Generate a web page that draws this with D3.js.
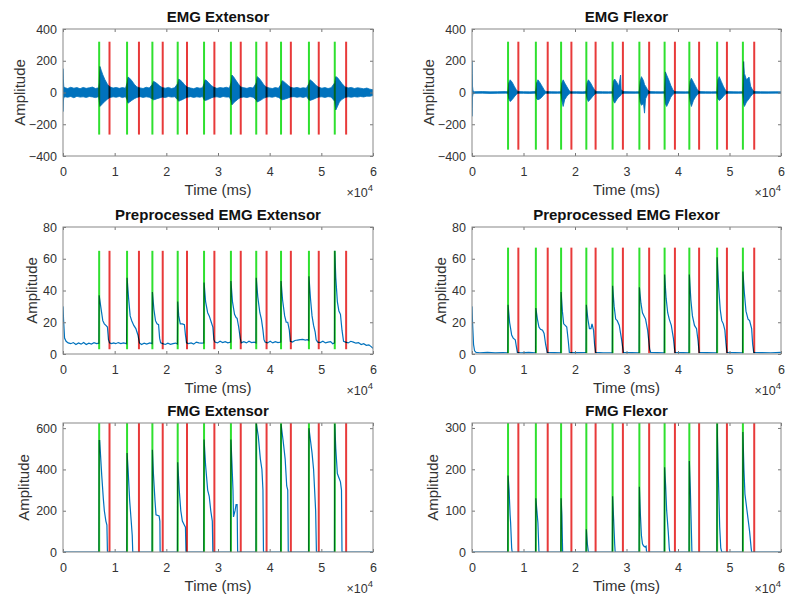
<!DOCTYPE html>
<html>
<head>
<meta charset="utf-8">
<script src="https://cdn.jsdelivr.net/npm/d3@7"></script>
<style>
  html, body { margin: 0; padding: 0; background: #fff; }
  svg { display: block; font-family: "Liberation Sans", Arial, Helvetica, sans-serif; }
  .tick text { fill: #333; }
</style>
</head>
<body>
<svg id="chart" width="786" height="599"></svg>
<script>
// ---------------- DATA ----------------
// marker times (ms): onset (green) and offset (red)
const greenT = [7000, 12400, 17300, 22200, 27300, 32500, 37400, 42200, 47600, 52600];
const redT   = [9000, 14700, 19300, 24000, 29300, 34400, 39400, 44100, 49500, 54800];

const xTicks = [0, 10000, 20000, 30000, 40000, 50000, 60000];
const yTicksRaw = [-400, -200, 0, 200, 400];
const yTicksPre = [0, 20, 40, 60, 80];
const yTicksFmgExt = [0, 200, 400, 600];
const yTicksFmgFlx = [0, 100, 200, 300];

const titles = ["EMG Extensor", "EMG Flexor", "Preprocessed EMG Extensor",
                "Preprocessed EMG Flexor", "FMG Extensor", "FMG Flexor"];
const yMin = [-400, -400, 0, 0, 0, 0];
const yMax = [400, 400, 80, 80, 625, 312];
const markerLo = [-265, -360, 3, 0.5, 0, 0];
const markerHi = [320, 320, 65, 67, 625, 312];

// Raw EMG extensor: envelope of the dense signal (time ms, upper, lower)
const emgExtT = [0, 60, 150, 400, 900, 1500, 2100, 2700, 3300, 3900, 4500, 5100, 5700, 6300, 6900,
  7000, 7150, 7400, 7700, 8100, 8600, 9100,
  9700, 10300, 10900, 11500, 12100,
  12400, 12600, 12900, 13300, 13800, 14300,
  14900, 15500, 16100, 16700,
  17300, 17500, 17800, 18200, 18700, 19200,
  19800, 20400, 21000, 21600,
  22200, 22400, 22700, 23100, 23600, 24100,
  24700, 25300, 25900, 26500, 27000,
  27300, 27500, 27800, 28200, 28700, 29200,
  29800, 30400, 31000, 31600, 32200,
  32500, 32700, 33000, 33400, 33900, 34400,
  35000, 35600, 36200, 36800,
  37400, 37600, 37900, 38300, 38800, 39300,
  39900, 40500, 41100, 41700,
  42200, 42400, 42700, 43100, 43600, 44100,
  44700, 45300, 45900, 46500, 47100,
  47600, 47800, 48100, 48500, 49000, 49500,
  50100, 50700, 51300, 51900,
  52600, 52800, 53100, 53500, 54000, 54600,
  55200, 55800, 56400, 57000, 57600, 58200, 58800, 59400, 60000];
const emgExtHi = [150, 90, 36, 30, 25, 33, 27, 31, 24, 32, 26, 30, 34, 25, 30,
  60, 164, 140, 112, 82, 52, 35,
  28, 32, 26, 31, 27,
  60, 97, 90, 75, 52, 35,
  29, 25, 33, 28,
  52, 70, 66, 56, 42, 31,
  27, 32, 25, 30,
  56, 84, 78, 66, 46, 33,
  28, 24, 31, 27, 30,
  56, 80, 75, 61, 44, 33,
  26, 31, 28, 33, 27,
  60, 110, 100, 80, 56, 35,
  30, 26, 32, 28,
  60, 100, 92, 76, 52, 35,
  29, 25, 31, 27,
  52, 74, 70, 59, 44, 32,
  28, 32, 26, 30, 27,
  56, 80, 74, 61, 44, 33,
  27, 31, 25, 30,
  62, 100, 95, 78, 56, 35,
  29, 32, 25, 30, 27, 23, 28, 21, 17];
const emgExtLo = [-120, -60, -32, -27, -30, -25, -33, -24, -29, -27, -31, -25, -28, -32, -26,
  -50, -88, -80, -70, -56, -42, -31,
  -27, -30, -25, -32, -26,
  -46, -67, -60, -50, -39, -31,
  -26, -31, -27, -30,
  -41, -46, -44, -39, -34, -29,
  -32, -25, -29, -27,
  -46, -55, -50, -45, -36, -30,
  -26, -31, -27, -30, -25,
  -46, -50, -48, -42, -34, -29,
  -27, -31, -25, -29, -28,
  -50, -78, -66, -55, -41, -31,
  -28, -32, -26, -30,
  -48, -60, -55, -48, -37, -30,
  -27, -30, -25, -31,
  -41, -46, -44, -40, -34, -28,
  -26, -30, -27, -31, -25,
  -46, -50, -47, -42, -34, -29,
  -27, -31, -26, -29,
  -56, -110, -90, -60, -43, -31,
  -27, -30, -26, -29, -25, -28, -23, -24, -19];

// Raw EMG flexor envelope
const emgFlxT = [0, 40, 100, 200, 500, 2000, 3500, 5000, 6500, 6900,
  7000, 7150, 7400, 7800, 8200, 8600, 8900,
  10000, 11200, 12300,
  12400, 12550, 12800, 13200, 13600, 14000, 14300,
  15500, 16600, 17250,
  17300, 17450, 17700, 18000, 18400, 18800, 19100,
  20300, 21500, 22150,
  22200, 22350, 22600, 23000, 23400, 23800, 24100,
  25300, 26500, 27250,
  27300, 27450, 27700, 28100, 28500, 28850, 28950, 29300,
  30500, 31700, 32450,
  32500, 32650, 32900, 33300, 33500, 33700, 34100, 34400,
  35600, 36700, 37350,
  37400, 37550, 37800, 38200, 38600, 39000, 39300,
  40400, 41500, 42150,
  42200, 42350, 42600, 43000, 43400, 43800, 44100,
  45300, 46500, 47550,
  47600, 47750, 48000, 48400, 48800, 49200, 49500,
  50700, 51800, 52550,
  52600, 52750, 52900, 53300, 53800, 54100, 54500, 54800,
  56000, 57500, 59000, 60000];
const emgFlxHi = [200, 120, 40, 10, 5, 6, 4, 5, 6, 4,
  15, 60, 80, 65, 40, 18, 6,
  5, 4, 6,
  15, 60, 80, 62, 40, 18, 6,
  5, 4, 5,
  15, 60, 80, 60, 38, 15, 5,
  5, 4, 6,
  15, 60, 80, 62, 38, 16, 6,
  5, 4, 5,
  15, 70, 85, 65, 40, 110, 20, 6,
  5, 4, 5,
  15, 70, 100, 75, 50, 40, 18, 6,
  5, 4, 5,
  20, 130, 110, 80, 45, 18, 6,
  5, 4, 5,
  15, 70, 90, 65, 40, 16, 6,
  5, 4, 5,
  15, 80, 100, 70, 40, 15, 6,
  5, 4, 5,
  20, 195, 120, 80, 97, 40, 15, 6,
  5, 4, 5, 4];
const emgFlxLo = [-150, -100, -30, -8, -5, -4, -6, -5, -4, -5,
  -12, -40, -57, -45, -28, -12, -5,
  -5, -6, -4,
  -12, -40, -46, -40, -28, -12, -5,
  -5, -5, -4,
  -12, -50, -88, -45, -25, -10, -5,
  -5, -6, -4,
  -12, -40, -57, -42, -26, -12, -5,
  -5, -5, -4,
  -12, -50, -67, -45, -28, -20, -12, -5,
  -5, -5, -4,
  -12, -60, -80, -70, -130, -40, -12, -5,
  -5, -5, -4,
  -15, -70, -88, -60, -30, -12, -5,
  -5, -5, -4,
  -12, -55, -88, -50, -28, -12, -5,
  -5, -5, -4,
  -12, -40, -50, -40, -25, -10, -5,
  -5, -5, -4,
  -15, -70, -88, -60, -40, -25, -10, -5,
  -5, -5, -4, -4];

// Preprocessed EMG extensor (time ms, value)
const preExtT = [0, 100, 300, 600, 1000, 1500, 2000, 2500, 3000, 3500, 4000, 4500, 5000, 5500, 6000, 6500, 6950,
  7000, 7300, 7700, 8000, 8300, 8600, 8800, 9000, 9400, 9800, 10200, 10700, 11200, 11700, 12300,
  12400, 12700, 13000, 13300, 13700, 14100, 14500, 14800, 15200, 15700, 16200, 16800, 17250,
  17300, 17600, 17900, 18200, 18500, 18700, 18900, 19300, 19800, 20300, 20800, 21300, 21800, 22150,
  22200, 22400, 22700, 23100, 23500, 23700, 23900, 24300, 24800, 25300, 25800, 26300, 26800, 27250,
  27300, 27600, 28000, 28300, 28700, 29000, 29200, 29400, 29900, 30400, 30900, 31400, 31900, 32450,
  32500, 32800, 33200, 33500, 33700, 34000, 34300, 34500, 35000, 35500, 36000, 36500, 37000, 37350,
  37400, 37700, 38100, 38400, 38700, 38900, 39100, 39600, 40100, 40600, 41100, 41600, 42150,
  42200, 42500, 42900, 43200, 43500, 43800, 44000, 44400, 44900, 45400, 45900, 46400, 46900, 47300, 47550,
  47600, 47900, 48200, 48500, 48800, 49000, 49300, 49800, 50300, 50800, 51300, 51800, 52200, 52550,
  52600, 52800, 53100, 53400, 53700, 54000, 54300, 54700, 55200, 55700, 56200, 56700, 57200, 57700, 58200, 58700, 59200, 59700, 60000];
const preExtV = [30, 22, 10, 8, 7, 6.5, 7.2, 6, 7, 6.2, 7.3, 6, 6.8, 6.3, 7.1, 6.5, 6.8,
  37, 30, 21, 19, 18, 17, 9, 7, 6.5, 7, 6.5, 7.2, 6.6, 7, 6.5,
  48, 35, 24, 21, 18, 16, 12, 7, 6, 6.8, 6.2, 7, 6.5,
  39, 28, 21, 19, 18.5, 10, 7, 6.5, 6, 6.8, 6.1, 6.5, 6.9, 6.3,
  33, 24, 19, 19, 18.5, 12, 7, 6.5, 7, 6.2, 7.5, 7, 6.8, 7,
  45, 33, 26, 24, 20, 17, 9, 7.5, 7, 8, 7.2, 7.8, 7, 7.5,
  46, 33, 25, 23, 22.5, 17, 10, 7, 7.8, 7, 8, 7.2, 7.5, 7,
  48, 36, 26, 22, 15, 9, 7.5, 7, 8, 7, 7.8, 7.2, 7.5,
  46, 34, 24, 20, 20, 15, 8, 7.5, 8.5, 8.8, 9, 9.2, 8.8, 9, 8.5,
  49, 35, 24, 18, 14, 9, 7.5, 7.2, 8, 7, 7.5, 7.8, 6.5, 7,
  65, 48, 33, 27, 25, 15, 8, 7.5, 7, 8, 7.5, 6.8, 7.2, 6, 6.5, 5.5, 5.8, 4.5, 3.5];

// Preprocessed EMG flexor
const preFlxT = [0, 100, 300, 500, 800, 1500, 3000, 4500, 6000, 6950,
  7000, 7300, 7700, 8000, 8400, 8600, 8800, 9500, 11000, 12350,
  12400, 12700, 13000, 13300, 13700, 14000, 14300, 14600, 16000, 17250,
  17300, 17550, 17800, 18100, 18400, 18700, 18900, 20000, 22150,
  22200, 22500, 22800, 23100, 23300, 23600, 23800, 24000, 25500, 27250,
  27300, 27600, 27900, 28200, 28600, 29000, 29400, 31000, 32450,
  32500, 32800, 33100, 33400, 33700, 34100, 34500, 34700, 36000, 37350,
  37400, 37700, 38000, 38300, 38700, 39100, 39400, 41000, 42150,
  42200, 42500, 42800, 43200, 43600, 43900, 44100, 45500, 47550,
  47600, 47900, 48200, 48500, 48800, 49100, 49300, 49500, 51000, 52550,
  52600, 52900, 53200, 53600, 53900, 54300, 54500, 54700, 56000, 58000, 60000];
const preFlxV = [30, 20, 6, 2, 1, 0.8, 1, 0.7, 0.9, 0.8,
  31, 20, 12, 10, 9, 5, 1, 0.8, 1, 0.8,
  29, 22, 17, 15.6, 15, 13, 6, 1, 0.9, 0.8,
  39, 27, 19, 18, 17, 8, 1, 0.9, 1,
  31, 22, 16, 16, 19, 15, 6, 1, 0.8, 0.9,
  43, 30, 22, 21, 18, 10, 1, 0.9, 0.8,
  42, 32, 26, 24, 22, 15, 3, 1, 0.9, 0.8,
  50, 35, 26, 22, 18, 10, 1, 0.9, 0.8,
  50, 34, 24, 18, 16, 8, 1, 0.9, 0.8,
  61, 42, 28, 21, 19, 15, 7, 1, 0.9, 0.8,
  52, 38, 27, 22, 21, 16, 6, 1, 0.9, 0.8, 1];

// FMG extensor
const fmgExtT = [0, 6950, 7000, 7100, 7500, 7800, 8000, 8300, 8500, 8600, 12350,
  12400, 12600, 12900, 13200, 13400, 13500, 17250,
  17300, 17500, 17800, 18000, 18600, 18750, 18800, 22150,
  22200, 22500, 22800, 23100, 23500, 23700, 23800, 27250,
  27300, 27600, 28000, 28300, 28600, 28900, 29000, 32450,
  32500, 32700, 32900, 33000, 33300, 33500, 33700, 33800, 37350,
  37400, 37800, 38200, 38500, 38700, 38800, 42150,
  42200, 42600, 43000, 43300, 43500, 43600, 47550,
  47600, 47900, 48200, 48500, 48700, 48900, 49050, 52550,
  52600, 52800, 53100, 53400, 53700, 53900, 54000, 60000];
const fmgExtV = [0, 0, 540, 540, 370, 260, 200, 150, 130, 0, 0,
  480, 400, 250, 150, 80, 0, 0,
  495, 380, 250, 180, 175, 150, 0, 0,
  435, 300, 200, 150, 130, 120, 0, 0,
  545, 420, 300, 270, 200, 150, 0, 0,
  545, 430, 300, 170, 200, 230, 230, 0, 0,
  625, 560, 450, 400, 300, 0, 0,
  620, 540, 450, 320, 300, 0, 0,
  600, 540, 480, 400, 300, 200, 0, 0,
  620, 500, 380, 360, 340, 300, 0, 0];

// FMG flexor
const fmgFlxT = [0, 6950, 7000, 7200, 7400, 7500, 7700, 7800, 12350,
  12400, 12600, 12800, 13000, 17250,
  17300, 17450, 17600, 22150,
  22200, 22400, 22600, 27250,
  27300, 27500, 27700, 27800, 32450,
  32500, 32700, 32900, 33100, 33300, 33600, 33800, 33900, 37350,
  37400, 37600, 37800, 38100, 38300, 38400, 42150,
  42200, 42400, 42600, 42700, 47550,
  47600, 47800, 48100, 48300, 48500, 52550,
  52600, 52800, 53000, 53300, 53600, 53900, 54200, 54300, 60000];
const fmgFlxV = [0, 0, 185, 150, 90, 70, 10, 0, 0,
  130, 100, 70, 0, 0,
  130, 90, 0, 0,
  55, 20, 0, 0,
  135, 80, 20, 0, 0,
  158, 90, 40, 20, 15, 12, 14, 0, 0,
  205, 160, 100, 50, 10, 0, 0,
  220, 150, 50, 0, 0,
  310, 200, 60, 10, 0, 0,
  290, 200, 140, 110, 80, 50, 10, 0, 0];

// ---------------- CHART ----------------
const svg = d3.select("#chart");
const colX = [[63, 373], [472, 781]];
const rowY = [[29, 156], [227, 354], [423, 552]];
const ampOffset = [43, 31, 39];
const blue = "#0072BD", green = "#2fe02f", red = "#e83a3a";

const panels = [
  {kind: "band", t: emgExtT, hi: emgExtHi, lo: emgExtLo, ticks: yTicksRaw},
  {kind: "band", t: emgFlxT, hi: emgFlxHi, lo: emgFlxLo, ticks: yTicksRaw},
  {kind: "line", t: preExtT, v: preExtV, ticks: yTicksPre},
  {kind: "line", t: preFlxT, v: preFlxV, ticks: yTicksPre},
  {kind: "line", t: fmgExtT, v: fmgExtV, ticks: yTicksFmgExt},
  {kind: "line", t: fmgFlxT, v: fmgFlxV, ticks: yTicksFmgFlx}
];

panels.forEach((p, i) => {
  const col = i % 2, row = Math.floor(i / 2);
  const [x0, x1] = colX[col];
  const [y0, y1] = rowY[row];
  const x = d3.scaleLinear().domain([0, 60000]).range([x0, x1]);
  const y = d3.scaleLinear().domain([yMin[i], yMax[i]]).range([y1, y0]);
  const g = svg.append("g");

  const clipId = "clip" + i;
  g.append("clipPath").attr("id", clipId)
    .append("rect").attr("x", x0).attr("y", y0).attr("width", x1 - x0).attr("height", y1 - y0);

  const plot = g.append("g").attr("clip-path", `url(#${clipId})`);

  // marker lines
  plot.selectAll("line.g").data(greenT).join("line")
    .attr("x1", d => x(d)).attr("x2", d => x(d))
    .attr("y1", y(markerLo[i])).attr("y2", y(markerHi[i]))
    .attr("stroke", green).attr("stroke-width", 2);
  plot.selectAll("line.r").data(redT).join("line")
    .attr("x1", d => x(d)).attr("x2", d => x(d))
    .attr("y1", y(markerLo[i])).attr("y2", y(markerHi[i]))
    .attr("stroke", red).attr("stroke-width", 2);

  // signal
  if (p.kind === "band") {
    const idx = d3.range(p.t.length);
    const area = d3.area().x(k => x(p.t[k])).y0(k => y(p.lo[k])).y1(k => y(p.hi[k]));
    plot.append("path").datum(idx).attr("d", area)
      .attr("fill", blue).attr("stroke", blue).attr("stroke-width", 0.8)
      .style("mix-blend-mode", "multiply");
  } else {
    const idx = d3.range(p.t.length);
    const line = d3.line().x(k => x(p.t[k])).y(k => y(p.v[k]));
    plot.append("path").datum(idx).attr("d", line)
      .attr("fill", "none").attr("stroke", blue).attr("stroke-width", 1.2)
      .style("mix-blend-mode", "multiply");
  }

  // axes (ticks inside, box on)
  const fs = "12.5px";
  const xb = g.append("g").attr("transform", `translate(0,${y1})`)
    .call(d3.axisBottom(x).tickValues(xTicks).tickFormat(d => d3.format("d")(d / 10000))
      .tickSize(-3).tickPadding(11));
  const xt = g.append("g").attr("transform", `translate(0,${y0})`)
    .call(d3.axisTop(x).tickValues(xTicks).tickFormat("").tickSize(-3));
  const yl = g.append("g").attr("transform", `translate(${x0},0)`)
    .call(d3.axisLeft(y).tickValues(p.ticks).tickFormat(d3.format("d")).tickSize(-3).tickPadding(6));
  const yr = g.append("g").attr("transform", `translate(${x1},0)`)
    .call(d3.axisRight(y).tickValues(p.ticks).tickFormat("").tickSize(-3));
  [xb, xt, yl, yr].forEach(a => {
    a.select(".domain").remove();
    a.selectAll(".tick line").attr("stroke", "#777").attr("stroke-width", 1);
    a.selectAll(".tick text").attr("font-size", fs).attr("fill", "#333")
      .attr("font-family", "'Liberation Sans', Arial, sans-serif");
  });
  g.append("rect").attr("x", x0).attr("y", y0).attr("width", x1 - x0).attr("height", y1 - y0)
    .attr("fill", "none").attr("stroke", "#888").attr("stroke-width", 1);

  // title
  g.append("text").attr("x", (x0 + x1) / 2).attr("y", y0 - 7)
    .attr("text-anchor", "middle").attr("font-weight", "bold").attr("font-size", "15px")
    .attr("fill", "#111").text(titles[i]);
  // x label
  g.append("text").attr("x", (x0 + x1) / 2).attr("y", y1 + 39)
    .attr("text-anchor", "middle").attr("font-size", "15px").attr("fill", "#333").text("Time (ms)");
  // exponent
  const ex = g.append("text").attr("x", x1).attr("y", y1 + 41)
    .attr("text-anchor", "end").attr("font-size", "12.5px").attr("fill", "#333");
  ex.append("tspan").text("\u00d710");
  ex.append("tspan").attr("dy", -6).attr("font-size", "9.5px").text("4");
  // y label
  const ax = x0 - ampOffset[row];
  g.append("text").attr("transform", `translate(${ax},${(y0 + y1) / 2}) rotate(-90)`)
    .attr("text-anchor", "middle").attr("dy", "0.35em")
    .attr("font-size", "15px").attr("fill", "#333").text("Amplitude");
});
</script>
</body>
</html>
